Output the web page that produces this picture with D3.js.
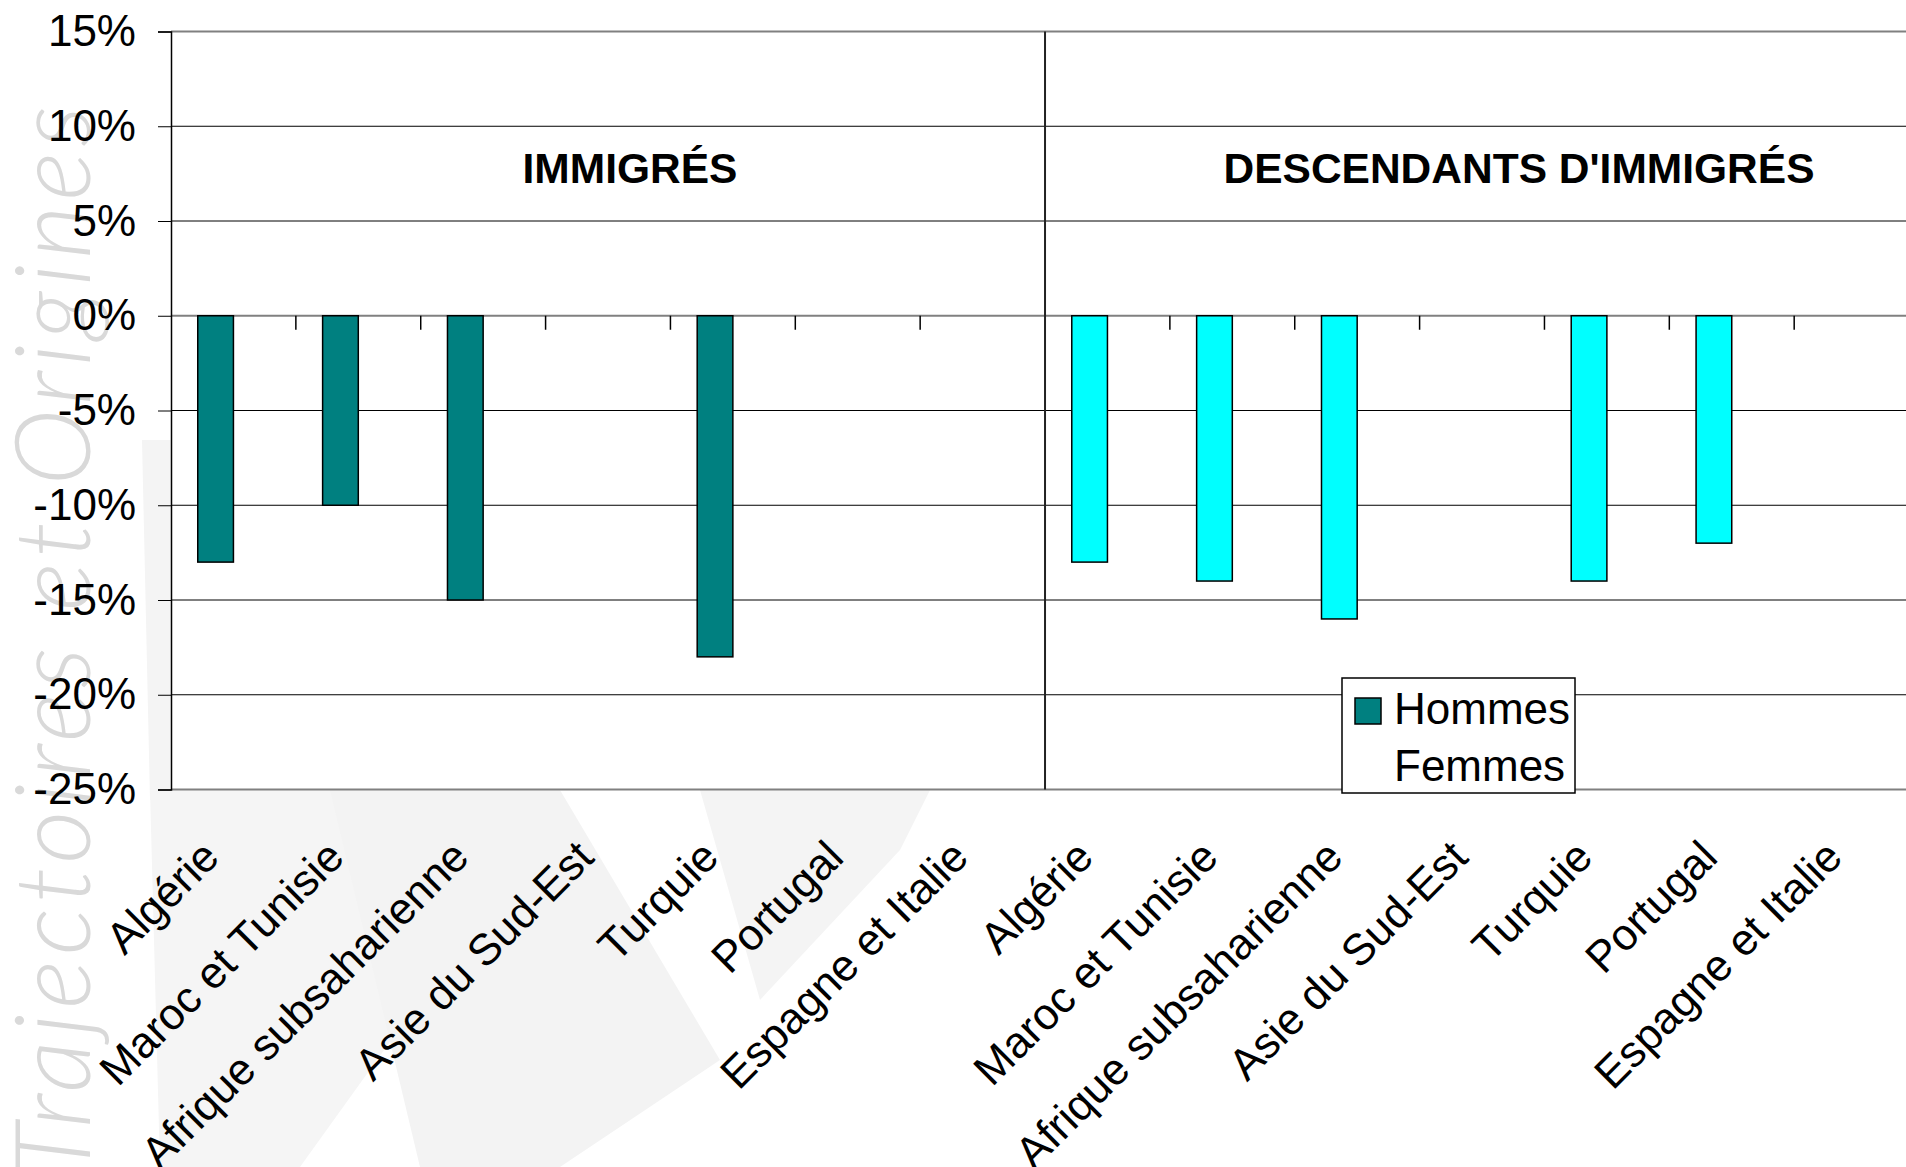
<!DOCTYPE html>
<html>
<head>
<meta charset="utf-8">
<script src="https://cdn.jsdelivr.net/npm/d3@7/dist/d3.min.js"></script>
<style>
  html, body { margin: 0; padding: 0; background: #fff; }
  svg { display: block; }
  text { font-family: "Liberation Sans", Arial, Helvetica, sans-serif; }
</style>
</head>
<body>
<svg id="chart" width="1906" height="1167"></svg>
<script>
// ---- Data ----
const groups = ["IMMIGRÉS", "DESCENDANTS D'IMMIGRÉS"];
const countries = ["Algérie", "Maroc et Tunisie", "Afrique subsaharienne", "Asie du Sud-Est", "Turquie", "Portugal", "Espagne et Italie"];
const seriesNames = ["Hommes", "Femmes"];
// Hommes values (%) : immigrés then descendants (null = no bar)
const hommesImmigres    = [-13, -10, -15, null, -18, null, null];
const hommesDescendants = [-13, -14, -16, null, -14, -12, null];
// Femmes series present in legend but without visible bars
const femmesImmigres    = [null, null, null, null, null, null, null];
const femmesDescendants = [null, null, null, null, null, null, null];
const groupColors = ["#008080", "#00FFFF"];
const yTicks = [15, 10, 5, 0, -5, -10, -15, -20, -25];

(function () {
// ---- Build rows ----
const rows = [];
groups.forEach((g, gi) => {
  countries.forEach((c, ci) => {
    rows.push({
      key: gi + "|" + c,
      group: gi,
      label: c,
      Hommes: gi === 0 ? hommesImmigres[ci] : hommesDescendants[ci],
      Femmes: gi === 0 ? femmesImmigres[ci] : femmesDescendants[ci]
    });
  });
});

// ---- Layout ----
const W = 1906, H = 1167;
const mLeft = 171, mTop = 31.5, mBottom = 789.5;
const step = 124.86;
const mRight = mLeft + step * rows.length;

const svg = d3.select("#chart");

const x0 = d3.scaleBand().domain(rows.map(d => d.key)).range([mLeft, mRight]).paddingInner(0).paddingOuter(0);
const x1 = d3.scaleBand().domain(seriesNames).range([0, x0.bandwidth()]).paddingInner(0).paddingOuter(0.75);
const y = d3.scaleLinear().domain([-25, 15]).range([mBottom, mTop]);

// ---- Background watermark ----
const wm = svg.append("g").attr("class", "watermark");
wm.append("polygon").attr("points", "142,440 171,440 171,800 150,800").attr("fill", "#f4f4f4");
wm.append("polygon").attr("points", "150,790 450,790 420,1000 300,1167 160,1167").attr("fill", "#f5f5f5");
wm.append("polygon").attr("points", "330,790 560,790 720,1060 560,1167 420,1167").attr("fill", "#f3f3f3");
wm.append("polygon").attr("points", "700,790 930,790 900,850 760,1000").attr("fill", "#f4f4f4");
wm.append("text")
  .attr("transform", "translate(90,1178) rotate(-90)")
  .attr("font-size", 104)
  .attr("font-style", "italic")
  .attr("font-weight", 300)
  .attr("letter-spacing", 5)
  .attr("fill", "#d9d9d9")
  .style("font-family", "Lato, 'Open Sans', sans-serif")
  .text("Trajectoires et Origines");

// ---- Plot area ----
svg.append("rect").attr("x", mLeft).attr("y", mTop).attr("width", W - mLeft).attr("height", mBottom - mTop).attr("fill", "#fff");

// gridlines
svg.append("g").selectAll("line").data(yTicks).join("line")
  .attr("x1", mLeft).attr("x2", W)
  .attr("y1", d => y(d)).attr("y2", d => y(d))
  .attr("stroke", d => (d === 15 || d === 0 || d === -25) ? "#808080" : "#000")
  .attr("stroke-width", d => (d === 15 || d === 0 || d === -25) ? 2 : 1);

// y axis
const yAxis = d3.axisLeft(y).tickValues(yTicks).tickSize(13).tickPadding(22).tickFormat(d => d + "%");
const ya = svg.append("g").attr("transform", `translate(${mLeft},0)`).call(yAxis);
ya.select(".domain").attr("stroke", "#000").attr("stroke-width", 1.5);
ya.selectAll(".tick line").attr("stroke", "#000").attr("stroke-width", 1);
ya.selectAll(".tick text").attr("font-size", 44).attr("fill", "#000")
  .style("font-family", "'Liberation Sans', Arial, sans-serif");

// group divider
svg.append("line")
  .attr("x1", x0(rows[countries.length].key)).attr("x2", x0(rows[countries.length].key))
  .attr("y1", mTop).attr("y2", mBottom)
  .attr("stroke", "#222").attr("stroke-width", 2);

// category tick marks on 0 line
const boundaries = rows.slice(1).map((d, i) => ({ key: d.key, i: i + 1 })).filter(d => d.i !== countries.length);
svg.append("g").selectAll("line").data(boundaries).join("line")
  .attr("x1", d => x0(d.key)).attr("x2", d => x0(d.key))
  .attr("y1", y(0)).attr("y2", y(0) + 14)
  .attr("stroke", "#000").attr("stroke-width", 1.5);

// bars
const barData = [];
rows.forEach(r => seriesNames.forEach(s => { if (r[s] !== null) barData.push({ key: r.key, group: r.group, series: s, value: r[s] }); }));
svg.append("g").selectAll("rect").data(barData).join("rect")
  .attr("x", d => x0(d.key) + x1(d.series))
  .attr("width", x1.bandwidth())
  .attr("y", d => y(Math.max(0, d.value)))
  .attr("height", d => Math.abs(y(d.value) - y(0)))
  .attr("fill", d => groupColors[d.group])
  .attr("stroke", "#000").attr("stroke-width", 1.5);

// group titles
const titleX = [630, 1519];
svg.append("g").selectAll("text").data(groups).join("text")
  .attr("x", (d, i) => titleX[i]).attr("y", 183)
  .attr("text-anchor", "middle")
  .attr("font-size", 42.5).attr("font-weight", "bold").attr("fill", "#000")
  .text(d => d);

// x labels
svg.append("g").selectAll("text").data(rows).join("text")
  .attr("transform", d => `translate(${x0(d.key) + x0.bandwidth() / 2 - 12},${mBottom + 70}) rotate(-45)`)
  .attr("text-anchor", "end")
  .attr("font-size", 44).attr("fill", "#000")
  .text(d => d.label);

// legend
const lg = svg.append("g").attr("transform", "translate(1342,678)");
lg.append("rect").attr("width", 233).attr("height", 115).attr("fill", "#fff").attr("stroke", "#000").attr("stroke-width", 1.5);
const lgItems = lg.selectAll("g").data(seriesNames).join("g")
  .attr("transform", (d, i) => `translate(0,${i * 57})`);
lgItems.filter(d => d === "Hommes").append("rect")
  .attr("x", 13).attr("y", 20).attr("width", 26).attr("height", 26)
  .attr("fill", groupColors[0]).attr("stroke", "#000").attr("stroke-width", 1.5);
lgItems.append("text").attr("x", 52).attr("y", 46).attr("font-size", 44).attr("fill", "#000").text(d => d);
})();
</script>
</body>
</html>
